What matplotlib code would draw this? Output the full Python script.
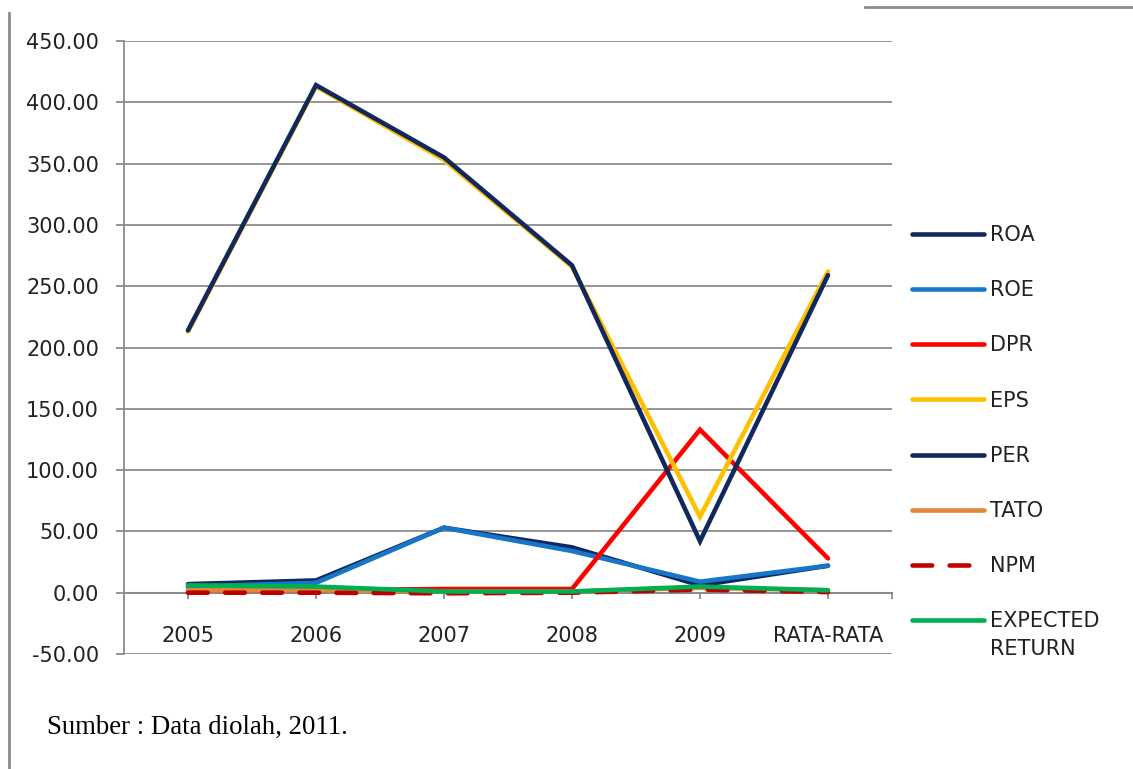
import numpy as np
import matplotlib
matplotlib.use("Agg")
import matplotlib.pyplot as plt
from matplotlib.lines import Line2D

# rasio keuangan per tahun + rata-rata
tahun = ["2005", "2006", "2007", "2008", "2009", "RATA-RATA"]

roa = [7, 10, 53, 37, 6, 22]
roe = [5, 8, 53, 34, 9, 22]
dpr = [2, 2, 3, 3, 133, 28]
eps = [213, 413, 353, 266, 62, 262]
per = [214, 414, 355, 267, 42, 259]
tato = [2, 2, 1, 1, 4, 2]
npm = [0, 0, -0.5, 0, 2.5, 0.5]
expected_return = [6, 5, 1, 1, 5, 2]

seri = [
    ("ROA", roa, "#10285E", "-"),
    ("ROE", roe, "#1776C8", "-"),
    ("DPR", dpr, "#FF0000", "-"),
    ("EPS", eps, "#FFC000", "-"),
    ("PER", per, "#10285E", "-"),
    ("TATO", tato, "#E0873C", "-"),
    ("NPM", npm, "#C00000", "--"),
    ("EXPECTED", expected_return, "#00B050", "-"),
]

plt.rcParams['font.family'] = ['DejaVu Sans']
abu = "#8C8C8C"
teks = '#222222'

fig = plt.figure(figsize=(11.33, 7.69), dpi=100)
ax = fig.add_axes([124/1133, 1-654/769, (892-124)/1133, (654-41)/769])

x = np.arange(len(tahun))
for nama, nilai, warna, gaya in seri:
    if gaya == "--":
        ax.plot(x, nilai, color=warna, lw=3.3, linestyle=(0, (4.3, 3.8)),
                dash_capstyle='round', label=nama, zorder=3)
    else:
        ax.plot(x, nilai, color=warna, lw=3.3, solid_capstyle='round',
                solid_joinstyle='miter', label=nama, zorder=3)

ax.set_xlim(-0.5, 5.5)
ax.set_ylim(-50, 450)
ax.set_yticks(np.arange(-50, 451, 50))
ax.set_yticklabels([f"{v:.2f}" for v in np.arange(-50, 451, 50)])
ax.set_xticks(list(x) + [5.5])
ax.set_xticklabels(tahun + [""])

ax.grid(axis='y', color=abu, lw=1.3, zorder=0)
ax.spines['top'].set_visible(False)
ax.spines['right'].set_visible(False)
ax.spines['left'].set_color(abu)
ax.spines['left'].set_linewidth(1.3)
ax.spines['bottom'].set_position(('data', 0))
ax.spines['bottom'].set_color(abu)
ax.spines['bottom'].set_linewidth(1.5)
ax.tick_params(axis='y', length=6, width=1.3, color=abu, pad=12, labelsize=15,
               labelcolor=teks)
ax.tick_params(axis='x', length=4, width=1.3, color=abu, pad=20, labelsize=15,
               labelcolor=teks)

leg = fig.legend(loc='upper left', bbox_to_anchor=(912/1133, 1-225/769),
                 frameon=False, fontsize=15, handlelength=3.46,
                 handletextpad=0.3, labelspacing=1.69, borderaxespad=0,
                 borderpad=0)
for t in leg.get_texts():
    t.set_color(teks)

# baris kedua label legenda terakhir
fig.canvas.draw()
bb = leg.get_texts()[-1].get_window_extent()
fig.text(bb.x0 / 1133, (bb.y0 - 28) / 769, "RETURN", fontsize=15, color=teks,
         ha='left', va='bottom')

# garis tepi halaman
fig.add_artist(Line2D([9/1133, 9/1133], [0, 1-13/769], color=abu, lw=2,
                      transform=fig.transFigure))
fig.add_artist(Line2D([865/1133, 1], [1-7/769, 1-7/769], color=abu, lw=2,
                      transform=fig.transFigure))

fig.text(47/1133, 1-727/769, "Sumber : Data diolah, 2011.",
         family='Liberation Serif', fontsize=19.3, va='center', ha='left')

fig.savefig("out.png", dpi=100)
